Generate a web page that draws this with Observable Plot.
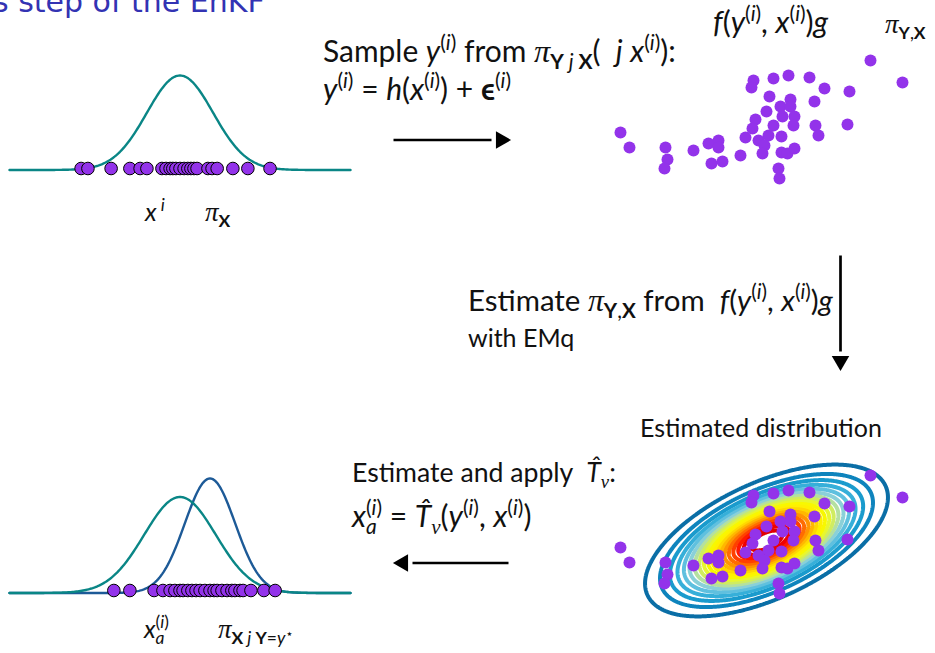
<!DOCTYPE html>
<html><head><meta charset="utf-8">
<script src="https://cdn.jsdelivr.net/npm/d3@7"></script>
<script src="https://cdn.jsdelivr.net/npm/@observablehq/plot@0.6"></script>
<style>
html,body{margin:0;padding:0;background:#fff;}
#stage{position:relative;width:935px;height:653px;overflow:hidden;background:#fff;}
#stage svg{position:absolute;left:0;top:0;}
</style></head><body><div id="stage"></div>
<script>
// ---------------- data ----------------
// prior ensemble x^(i) (standardised units)
const priorSamples = [-2.9,-2.7,-2.02,-1.47,-1.17,-0.97,-0.53,-0.41,-0.29,-0.21,-0.12,0,0.12,0.23,0.32,0.41,0.5,0.82,0.94,1.09,1.55,1.99,2.64];
// analysis ensemble x_a^(i)
const analysisSamples = [-1.94,-1.47,-0.76,-0.5,-0.29,-0.15,0,0.09,0.23,0.35,0.47,0.59,0.73,0.88,1.0,1.09,1.23,1.38,1.52,1.61,1.76,1.85,2.08,2.46,2.79];
// joint samples {(y^(i), x^(i))}
const jointX = [-2.92,-2.74,-2.02,-1.98,-2.04,-1.46,-1.16,-0.96,-0.96,-1.1,-0.88,-0.52,-0.42,-0.26,-0.3,0.14,0.44,0.86,1.16,1.66,2.08,2.72,0.06,0.48,0.28,0.48,0.96,0.0,0.32,0.56,-0.22,-0.28,0.14,0.54,0.98,1.62,1.04,0.04,0.3,-0.16,-0.04,0.3,0.42,0.56,-0.08,0.24,0.26];
const jointY = [-0.14,-0.44,-0.44,-0.68,-0.86,-0.5,-0.36,-0.3,-0.44,-0.76,-0.72,-0.6,-0.24,0.9,0.76,0.94,1.0,0.96,0.74,0.68,1.3,0.86,0.58,0.52,0.38,0.38,0.48,0.28,0.18,0.18,0.12,-0.06,0.0,0.0,0.0,0.02,-0.2,-0.2,-0.22,-0.3,-0.4,-0.54,-0.56,-0.46,-0.56,-0.86,-1.06];
// pdf curves: [prior (top), prior (bottom), posterior (bottom)]
const curveMean = [0, 0, 0.88];
const curveSd   = [0.97, 1.05, 0.74];
const curvePeak = [0.399, 0.399, 0.476];
// estimated joint Gaussian (contour levels of normalised density)
const ellipseSd = [1.07, 0.474];
const ellipseAngle = 24.65;
const contourLevels = [0.05,0.1,0.15,0.2,0.25,0.3,0.35,0.4,0.45,0.5,0.55,0.6,0.65,0.7,0.75,0.8,0.85,0.9,0.95];
const contourColors = ["#0a6ea6","#0e84bd","#1a9bcd","#36afd9","#5fc0df","#8ad0d8","#b4e0a0","#d0ec60","#e8f630","#f8f800","#fff000","#ffd800","#ffb800","#ff9400","#ff6c00","#ff4000","#ff1800","#f00000","#e00000"];

// ---------------- styles / layout ----------------
const W = 935, H = 653;
const TEAL = "#0a8686", BLUE = "#1d5a97", PURPLE = "#9333ea";
const FONT = "Lato, 'DejaVu Sans', sans-serif";
const SERIF = "'Liberation Serif', 'DejaVu Serif', serif";
const stage = document.getElementById("stage");
const base = {width: W, height: H, margin: 0, style: {background: "transparent", overflow: "visible"}};

const grid = d3.range(-5, 5.0001, 0.04);
const curve = (i) => grid.map(x => ({x, y: curvePeak[i] * Math.exp(-0.5 * ((x - curveMean[i]) / curveSd[i]) ** 2)}));
const joint = jointX.map((x, i) => ({x, y: jointY[i]}));
const th = ellipseAngle * Math.PI / 180;
const density = (u, v) => {
  const a = u * Math.cos(th) + v * Math.sin(th);
  const b = -u * Math.sin(th) + v * Math.cos(th);
  return Math.exp(-0.5 * ((a / ellipseSd[0]) ** 2 + (b / ellipseSd[1]) ** 2));
};

// top-left: prior
stage.append(Plot.plot({...base,
  x: {domain: [-5, 5], range: [9, 350], axis: null},
  y: {domain: [0, 0.399], range: [169.5, 75], axis: null},
  marks: [
    Plot.line(curve(0), {x: "x", y: "y", stroke: TEAL, strokeWidth: 2.4}),
    Plot.dot(priorSamples, {x: d => d, y: d => 0, dy: -1.5, r: 6.3, fill: PURPLE, stroke: "#000", strokeWidth: 1})
  ]}));

// bottom-left: prior + posterior
stage.append(Plot.plot({...base,
  x: {domain: [-5, 5], range: [9, 350], axis: null},
  y: {domain: [0, 0.399], range: [592.5, 496.5], axis: null},
  marks: [
    Plot.line(curve(2), {x: "x", y: "y", stroke: BLUE, strokeWidth: 2.4}),
    Plot.line(curve(1), {x: "x", y: "y", stroke: TEAL, strokeWidth: 2.4}),
    Plot.dot(analysisSamples, {x: d => d, y: d => 0, dy: -2.5, r: 6.3, fill: PURPLE, stroke: "#000", strokeWidth: 1})
  ]}));

// top-right: joint samples
stage.append(Plot.plot({...base,
  x: {domain: [-1, 1], range: [716, 816], axis: null},
  y: {domain: [-1, 1], range: [175, 75], axis: null},
  marks: [Plot.dot(joint, {x: "x", y: "y", r: 6, fill: PURPLE})]}));

// bottom-right: estimated distribution
stage.append(Plot.plot({...base,
  x: {domain: [-1, 1], range: [716, 816], axis: null},
  y: {domain: [-1, 1], range: [590, 490], axis: null},
  color: {type: "ordinal", domain: contourLevels, range: contourColors},
  marks: [
    Plot.contour({x1: -3.3, x2: 3.3, y1: -2.2, y2: 2.2, value: density, thresholds: contourLevels,
      stroke: "value", fill: "none", strokeWidth: 4, pixelSize: 1}),
    Plot.dot(joint, {x: "x", y: "y", r: 6, fill: PURPLE})
  ]}));

// arrows
const arrows = [
  {x1: 393, y1: 139.5, x2: 510, y2: 139.5},
  {x1: 840, y1: 255, x2: 840, y2: 370},
  {x1: 508, y1: 562.5, x2: 393, y2: 562.5}
];
const HEAD = 9.5;
const heads = arrows.map(a => {
  const dx = a.x2 - a.x1, dy = a.y2 - a.y1, L = Math.hypot(dx, dy);
  return {x: a.x2 - HEAD * dx / L, y: a.y2 - HEAD * dy / L, rot: Math.atan2(dy, dx) * 180 / Math.PI + 90,
          sx: a.x2 - 2 * HEAD * dx / L, sy: a.y2 - 2 * HEAD * dy / L, x1: a.x1, y1: a.y1};
});
stage.append(Plot.plot({...base,
  x: {domain: [0, W], range: [0, W], axis: null},
  y: {domain: [0, H], range: [0, H], axis: null},
  marks: [
    Plot.link(heads, {x1: "x1", y1: "y1", x2: "sx", y2: "sy", stroke: "#000", strokeWidth: 2.7}),
    Plot.dot(heads, {x: "x", y: "y", rotate: "rot", symbol: "triangle", r: 6.5, fill: "#000", stroke: "none"})
  ]}));

// ---------------- text ----------------
const tsvg = d3.create("svg").attr("width", W).attr("height", H).attr("viewBox", `0 0 ${W} ${H}`);
stage.append(tsvg.node());

function rich(o, segs) {
  const draw = (s) => {
    const t = tsvg.append("text").attr("x", o.x).attr("y", o.y).attr("font-family", o.family || FONT)
      .attr("font-size", s).attr("fill", o.color || "#111").attr("text-anchor", o.anchor || "start")
      .style("white-space", "pre");
    let shift = 0, prevLen = 0;
    for (const [txt, f = ""] of segs) {
      const sup = f.includes("^"), sub = f.includes("_"), mid = f.includes("~");
      const target = sup ? -0.40 * s : mid ? 0.0 : sub ? 0.25 * s : 0;
      const fs = mid ? 0.5 * s : (sup || sub) ? 0.7 * s : f.includes("s") ? 1.08 * s : s;
      const ts = t.append("tspan").text(txt).attr("dy", target - shift).attr("font-size", fs);
      shift = target;
      if (f.includes("i")) ts.attr("font-style", "italic");
      if (f.includes("b")) ts.attr("font-weight", "bold");
      if (f.includes("s")) ts.attr("font-family", SERIF);
      if (f.includes("<")) ts.attr("dx", -prevLen);
      prevLen = ts.node().getComputedTextLength();
    }
    return t;
  };
  let t = draw(o.size);
  if (o.fit) {
    const w = t.node().getComputedTextLength();
    const k = Math.max(0.85, Math.min(1.2, o.fit / w));
    t.remove();
    t = draw(o.size * k);
  }
  return t;
}
const SUPI = [["(", "^"], ["i", "^i"], [")", "^"]];

rich({x: -7, y: 11.5, size: 30, color: "#3333b3", family: "'DejaVu Sans', sans-serif"}, [["s step of the EnKF"]]);
rich({x: 323, y: 61.5, size: 25, fit: 353},
  [["Sample "], ["y", "i"], ...SUPI, [" from "], ["π", "si"], ["Y", "_b"], [" j ", "_i"], ["X", "_b"], ["(  "], ["j", "i"], [" "], ["x", "i"], ...SUPI, ["):"]]);
rich({x: 323, y: 100, size: 25, fit: 218},
  [["y", "i"], ...SUPI, [" = "], ["h", "i"], ["("], ["x", "i"], ...SUPI, [")"], [" + "], ["ϵ", "b"], ...SUPI]);
rich({x: 713, y: 33, size: 25, fit: 137},
  [["f", "i"], ["("], ["y", "i"], ...SUPI, [", "], ["x", "i"], ...SUPI, [")"], ["g", "i"]]);
rich({x: 885, y: 33, size: 25}, [["π", "si"], ["Y", "_b"], [",", "_"], ["X", "_b"]]);
rich({x: 468, y: 310.5, size: 25, fit: 365},
  [["Estimate "], ["π", "si"], ["Y", "_b"], [",", "_"], ["X", "_b"], [" from  "], ["f", "i"], ["("], ["y", "i"], ...SUPI, [", "], ["x", "i"], ...SUPI, [")"], ["g", "i"]]);
rich({x: 468, y: 346.5, size: 25}, [["with EMq"]]);
rich({x: 640, y: 436.5, size: 25, fit: 242}, [["Estimated distribution"]]);
rich({x: 352, y: 481.5, size: 25, fit: 264}, [["Estimate and apply  "], ["T\u0302", "i"], ["ν", "_si"], [":"]]);
rich({x: 352, y: 526.5, size: 25, fit: 218},
  [["x", "i"], ["a", "_i"], ["(", "^<"], ["i", "^i"], [")", "^"], [" = "], ["T\u0302", "i"], ["ν", "_si"], ["("], ["y", "i"], ...SUPI, [", "], ["x", "i"], ...SUPI, [")"]]);
rich({x: 145, y: 221, size: 25}, [["x", "i"], [" i", "^i"]]);
rich({x: 205, y: 221, size: 25}, [["π", "si"], ["X", "_b"]]);
rich({x: 144, y: 638, size: 25}, [["x", "i"], ["a", "_i"], ["(", "^<"], ["i", "^i"], [")", "^"]]);
rich({x: 218, y: 638, size: 25}, [["π", "si"], ["X", "_b"], [" j ", "_i"], ["Y", "_b"], ["=", "_"], ["y", "_i"], ["⋆", "~"]]);
</script></body></html>
